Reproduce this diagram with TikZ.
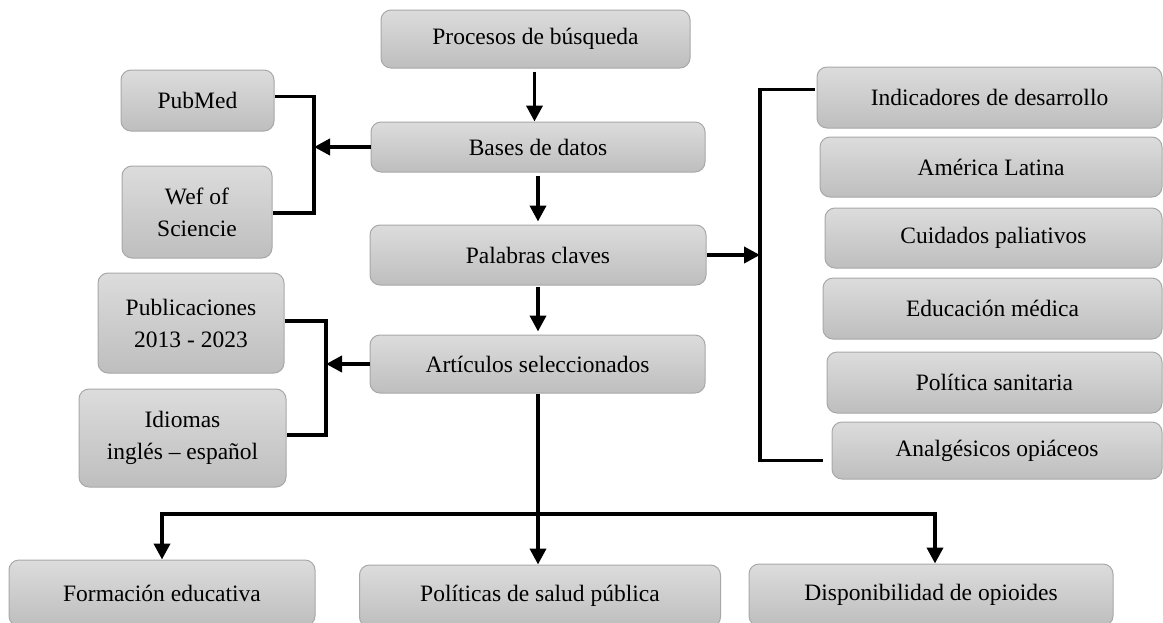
\documentclass[tikz,border=0pt]{standalone}
\usepackage{fontspec}
\setmainfont{Liberation Serif}
\usetikzlibrary{arrows.meta,calc}
\definecolor{boxtop}{HTML}{DCDCDC}
\definecolor{boxbot}{HTML}{BEBEBE}
\definecolor{boxedge}{HTML}{A8A8A8}
\tikzset{
  box/.style={draw=boxedge, line width=1pt, rounded corners=10pt, top color=boxtop, bottom color=boxbot,
    align=center, inner sep=2pt, font=\fontsize{23.5}{32}\selectfont, text=black},
  conn/.style={line width=3.8pt, black},
  arr/.style={conn, -{Triangle[length=16pt,width=16pt]}}
}
\begin{document}
\begin{tikzpicture}[x=1pt,y=-1pt]
\useasboundingbox (0,0) rectangle (1163,622);
% central column
\node[box, minimum width=309pt, minimum height=58pt] (proc) at (535.5,39) {Procesos de búsqueda};
\node[box, minimum width=334pt, minimum height=50pt] (bases) at (538,147) {Bases de datos};
\node[box, minimum width=336pt, minimum height=60pt] (pal) at (538,255) {Palabras claves};
\node[box, minimum width=335pt, minimum height=58pt] (art) at (537.5,364) {Artículos seleccionados};
% left boxes
\node[box, minimum width=153pt, minimum height=61pt] (pub) at (197.5,100.5) {PubMed};
\node[box, minimum width=150pt, minimum height=92pt] (wef) at (197,212) {Wef of\\Sciencie};
\node[box, minimum width=186pt, minimum height=100pt] (publ) at (191,323) {Publicaciones\\2013 - 2023};
\node[box, minimum width=207pt, minimum height=98pt] (idi) at (182.5,438) {Idiomas\\inglés – español};
% right boxes
\node[box, minimum width=345pt, minimum height=61pt] (ind) at (989.5,97.5) {Indicadores de desarrollo};
\node[box, minimum width=342pt, minimum height=60pt] (ame) at (991,167) {América Latina};
\node[box, minimum width=337pt, minimum height=60pt] (cui) at (993.5,238) {Cuidados paliativos};
\node[box, minimum width=339pt, minimum height=61pt] (edu) at (992.5,308.5) {Educación médica};
\node[box, minimum width=335pt, minimum height=61pt] (pol) at (994.5,382.5) {Política sanitaria};
\node[box, minimum width=330pt, minimum height=57pt] (ana) at (997,450.5) {Analgésicos opiáceos};
% bottom boxes
\node[box, minimum width=306pt, minimum height=66pt] (for) at (162,593) {Formación educativa};
\node[box, minimum width=361pt, minimum height=62pt] (pols) at (540,596) {Políticas de salud pública};
\node[box, minimum width=364pt, minimum height=62pt] (dis) at (931,595) {Disponibilidad de opioides};
% helper coordinates
\coordinate (lb1) at (314,147);
\coordinate (lb2) at (326,364);
\coordinate (rb) at (760,255);
\coordinate (bus) at (538,514);
% connectors
\draw[arr] ([xshift=-1pt,yshift=-3pt]proc.south) -- ([xshift=-1pt]proc.south |- bases.north);
\draw[arr] ([yshift=-3pt]bases.south) -- ([yshift=3pt]bases.south |- pal.north);
\draw[arr] ([yshift=-1pt]pal.south) -- ([yshift=3pt]pal.south |- art.north);
\draw[arr] ([xshift=0.5pt]art.south) -- ([xshift=0.5pt]art.south |- pols.north);
\draw[conn] ([yshift=4pt]pub.east) -| (lb1) |- ([yshift=-1pt]wef.east);
\draw[arr] (bases.west) -- (lb1);
\draw[conn] ([yshift=2pt]publ.east) -| (lb2) |- ([yshift=3pt]idi.east);
\draw[arr] (art.west) -- (lb2);
\draw[conn] ($(ind.west)+(-2,-8)$) -| (rb) |- ($(ana.west)+(-9,10)$);
\draw[arr] (pal.east) -- (rb);
\draw[arr] (bus) -| (for.north);
\draw[arr] (bus) -| ([xshift=4pt]dis.north);
\end{tikzpicture}
\end{document}
